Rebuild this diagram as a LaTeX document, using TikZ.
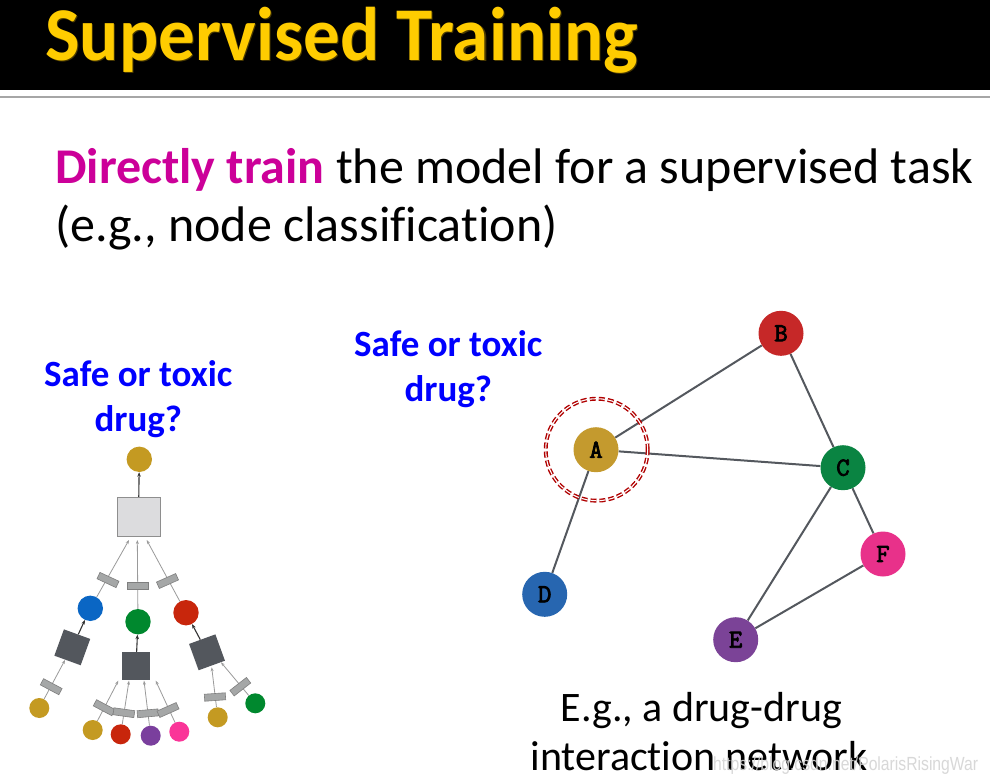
\documentclass[tikz,border=0pt]{standalone}
\usepackage{fontspec}
\setmainfont{Carlito}[Ligatures={NoCommon}]
\newfontfamily\wmfont{Liberation Sans}
\newfontfamily\monob{Latin Modern Mono}[FakeBold=3]
\usetikzlibrary{arrows.meta}
\pgfdeclarelayer{background}
\pgfsetlayers{background,main}
\definecolor{titleyellow}{HTML}{FFCC00}
\definecolor{titleshadow}{HTML}{4A3A00}
\definecolor{rulegray}{HTML}{A6A6A6}
\definecolor{magtext}{HTML}{CC0099}
\definecolor{qblue}{HTML}{0000FF}
\definecolor{cgold}{HTML}{C49A22}
\definecolor{cblue}{HTML}{0A66C4}
\definecolor{cgreen}{HTML}{00882E}
\definecolor{cred}{HTML}{C8260C}
\definecolor{cpurple}{HTML}{7A3F9D}
\definecolor{cpink}{HTML}{FA3598}
\definecolor{gsfill}{HTML}{DCDCDE}
\definecolor{gsdraw}{HTML}{8E8E8E}
\definecolor{darksq}{HTML}{53575D}
\definecolor{embfill}{HTML}{A5A7A7}
\definecolor{embdraw}{HTML}{7F7F7F}
\definecolor{lightarr}{HTML}{9A9A9A}
\definecolor{darkarr}{HTML}{333333}
\definecolor{gA}{HTML}{C49A2E}
\definecolor{gB}{HTML}{C62828}
\definecolor{gC}{HTML}{0A8442}
\definecolor{gD}{HTML}{2766B0}
\definecolor{gE}{HTML}{7B4397}
\definecolor{gF}{HTML}{E8318A}
\definecolor{edgecol}{HTML}{54585E}
\definecolor{ringred}{HTML}{B00000}
\definecolor{wmgray}{HTML}{D4D4D4}
\begin{document}
\begin{tikzpicture}[x=1pt,y=-1pt,
  tcirc/.style={circle, inner sep=0pt, minimum size=25.4pt},
  leaf/.style={circle, inner sep=0pt, minimum size=20pt},
  dsq/.style={rectangle, fill=darksq, minimum size=28pt, inner sep=0pt},
  emb/.style={rectangle, fill=embfill, draw=embdraw, line width=0.6pt, minimum width=21pt, minimum height=7pt, inner sep=0pt},
  larr/.style={draw=lightarr, line width=0.8pt, -{Stealth[length=4pt,width=3pt]}},
  darr/.style={draw=darkarr, line width=1.1pt, -{Stealth[length=4.5pt,width=3.5pt]}},
  gnode/.style={circle, minimum size=45pt, inner sep=0pt, font=\monob\fontsize{26}{26}\selectfont},
  gedge/.style={draw=edgecol, line width=2pt},
  bodytext/.style={anchor=base west, inner sep=0pt, font=\fontsize{50}{60}\selectfont},
  qtext/.style={anchor=base, inner sep=0pt, text=qblue, font=\bfseries\fontsize{37}{44}\selectfont},
  egtext/.style={anchor=base, inner sep=0pt, font=\fontsize{42}{50}\selectfont}
]
\useasboundingbox (0,0) rectangle (990,782);
\begin{pgfonlayer}{background}
\fill[white] (0,0) rectangle (990,782);
\fill[black] (0,0) rectangle (990,90);
\draw[rulegray, line width=2pt] (0,97) -- (990,97);
\end{pgfonlayer}
% title
\node[anchor=base west, inner sep=0pt, text=titleshadow, font=\bfseries\fontsize{76}{80}\selectfont] (titlesh) at (46.2,61.2) {\resizebox{593pt}{\height}{Supervised Training}};
\node[anchor=base west, inner sep=0pt, text=titleyellow, font=\bfseries\fontsize{76}{80}\selectfont] (title) at (45,60) {\resizebox{593pt}{\height}{Supervised Training}};
% body text
\node[bodytext] (line1) at (55,183.3) {{\bfseries\color{magtext}Directly train} the model for a supervised task};
\node[bodytext] (line2) at (55,241.7) {(e.g., node classification)};
% question labels
\node[qtext] (qL1) at (138.3,386.7) {Safe or toxic};
\node[qtext] (qL2) at (138.3,431.7) {drug?};
\node[qtext] (qR1) at (448.3,356.7) {Safe or toxic};
\node[qtext] (qR2) at (448.3,401.7) {drug?};
% ---------------- tree ----------------
\node[tcirc, fill=cgold] (tc) at (139.3,459.3) {};
\node[rectangle, fill=gsfill, draw=gsdraw, line width=1pt, minimum width=43pt, minimum height=39pt, inner sep=0pt] (gs) at (138.5,517) {};
\node[tcirc, fill=cblue] (nb) at (90.3,608.3) {};
\node[tcirc, fill=cgreen] (ng) at (138,621.7) {};
\node[tcirc, fill=cred] (nr) at (186,612.7) {};
\node[dsq, rotate=-20] (ls) at (72.3,647.3) {};
\node[dsq] (ms) at (136,666) {};
\node[dsq, rotate=20] (rs) at (207,652.3) {};
\node[leaf, fill=cgold] (l1) at (39.3,708) {};
\node[leaf, fill=cgold] (m1) at (92.7,730) {};
\node[leaf, fill=cred] (m2) at (120.7,734.3) {};
\node[leaf, fill=cpurple] (m3) at (150.7,735.7) {};
\node[leaf, fill=cpink] (m4) at (179.3,731.7) {};
\node[leaf, fill=cgold] (r1) at (217.7,717.3) {};
\node[leaf, fill=cgreen] (r2) at (255.3,703.3) {};
\coordinate (u1) at (129,540);
\coordinate (u2) at (137.3,540);
\coordinate (u3) at (146.7,540);
\coordinate (tl1) at (65,660);
\coordinate (tm1) at (118.3,680.7);
\coordinate (tm2) at (129,680.7);
\coordinate (tm3) at (144,680.7);
\coordinate (tm4) at (155.7,680.7);
\coordinate (tr1) at (211.7,667.3);
\coordinate (tr2) at (221,662.3);
\begin{pgfonlayer}{background}
\draw[darr] (gs) -- (tc);
\draw[larr] (nb) -- (u1);
\draw[larr] (ng) -- (u2);
\draw[larr] (nr) -- (u3);
\draw[darr] (ls) -- (nb);
\draw[darr] (ms) -- (ng);
\draw[darr] (rs) -- (nr);
\draw[larr] (l1) -- (tl1);
\draw[larr] (m1) -- (tm1);
\draw[larr] (m2) -- (tm2);
\draw[larr] (m3) -- (tm3);
\draw[larr] (m4) -- (tm4);
\draw[larr] (r1) -- (tr1);
\draw[larr] (r2) -- (tr2);
\end{pgfonlayer}
\node[emb, rotate=-25] (e1) at (108,580) {};
\node[emb] (e2) at (137.5,585.7) {};
\node[emb, rotate=24] (e3) at (167.5,581) {};
\node[emb, rotate=-28] (e4) at (51.2,686.7) {};
\node[emb, rotate=-28] (e5) at (104.2,707.7) {};
\node[emb, rotate=-8] (e6) at (123.9,712.7) {};
\node[emb, rotate=5] (e7) at (147.8,713.3) {};
\node[emb, rotate=24] (e8) at (168,710) {};
\node[emb, rotate=4] (e9) at (215,697) {};
\node[emb, rotate=38] (e10) at (240.3,686.7) {};
% ---------------- graph ----------------
\node[gnode, fill=gA] (A) at (596,449.7) {A};
\node[gnode, fill=gB] (B) at (781,333.3) {B};
\node[gnode, fill=gC] (C) at (843,467.7) {C};
\node[gnode, fill=gD] (D) at (544.7,594.3) {D};
\node[gnode, fill=gE] (E) at (735.7,639.7) {E};
\node[gnode, fill=gF] (F) at (883,554) {F};
\begin{pgfonlayer}{background}
\draw[gedge] (A) -- (B);
\draw[gedge] (A) -- (C);
\draw[gedge] (A) -- (D);
\draw[gedge] (B) -- (C);
\draw[gedge] (C) -- (E);
\draw[gedge] (C) -- (F);
\draw[gedge] (E) -- (F);
\end{pgfonlayer}
\node[circle, minimum size=102pt, inner sep=0pt, draw=ringred, line width=1.4pt, double=white, double distance=1.1pt, dash pattern=on 6pt off 3pt] (ring) at (596.7,449.7) {};
% bottom text
\node[egtext] (eg1) at (701.5,721.7) {E.g., a drug-drug};
\node[egtext] (eg2) at (699,770) {interaction network};
\node[anchor=base west, inner sep=0pt, text=wmgray, opacity=0.9, font=\wmfont\fontsize{19}{19}\selectfont] (wm) at (713,770) {\resizebox{265pt}{\height}{https://blog.csdn.net/PolarisRisingWar}};
\end{tikzpicture}
\end{document}
